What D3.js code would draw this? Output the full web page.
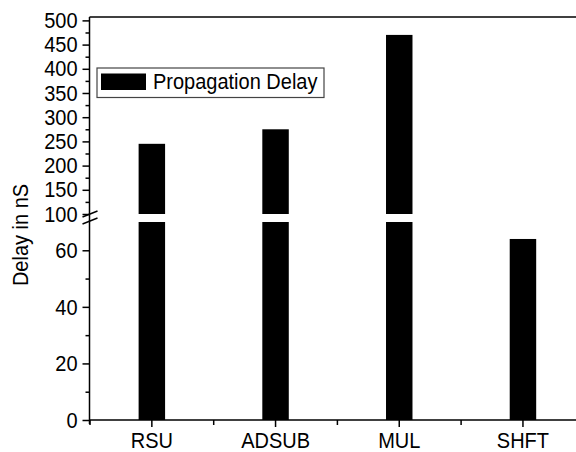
<!DOCTYPE html>
<html><head><meta charset="utf-8">
<script src="https://cdn.jsdelivr.net/npm/d3@7"></script>
<style>
body{margin:0;background:#fff;}
svg{display:block;}
text{font-family:"Liberation Sans",Arial,sans-serif;fill:#000;}
</style></head>
<body><svg id="c" width="576" height="452"></svg>
<script>
const categories = ["RSU", "ADSUB", "MUL", "SHFT"];
const delays = [245, 275, 470, 64];
const lowerTicks = [0, 20, 40, 60];
const lowerMinor = [10, 30, 50];
const upperTicks = [100, 150, 200, 250, 300, 350, 400, 450, 500];
const upperMinor = [125, 175, 225, 275, 325, 375, 425, 475];
const seriesName = "Propagation Delay";
const yTitle = "Delay in nS";

const svg = d3.select("#c");
const axX = 89.5, bottomY = 420, topY = 17;
const breakLow = 70, breakHigh = 100;
const sy = 1.12; // vertical text stretch

const x = d3.scaleBand().domain(categories).range([90, 584.8]).paddingInner(0.786).paddingOuter(0.393);
const yLow = d3.scaleLinear().domain([0, breakLow]).range([bottomY, 222]);
const yUp = d3.scaleLinear().domain([breakHigh, 507]).range([214, topY]);

// bars
const g = svg.append("g");
categories.forEach((c, i) => {
  const v = delays[i];
  const lowTop = Math.min(v, breakLow);
  g.append("rect").attr("x", x(c)).attr("width", x.bandwidth())
    .attr("y", yLow(lowTop)).attr("height", yLow(0) - yLow(lowTop)).attr("fill", "#000");
  if (v > breakHigh) {
    g.append("rect").attr("x", x(c)).attr("width", x.bandwidth())
      .attr("y", yUp(v)).attr("height", yUp(breakHigh) - yUp(v)).attr("fill", "#000");
  }
});

// frame top
svg.append("line").attr("x1", axX).attr("x2", 576).attr("y1", topY).attr("y2", topY)
  .attr("stroke", "#000").attr("stroke-width", 1.5);

function styleAxis(sel) {
  sel.select(".domain").remove();
  sel.selectAll(".tick line").attr("stroke", "#000").attr("stroke-width", 1.5);
  sel.selectAll("text").style("font-size", "20px").attr("transform", `scale(1,${sy})`);
}
// lower y axis
svg.append("g").attr("transform", `translate(${axX},0)`)
  .call(d3.axisLeft(yLow).tickValues(lowerTicks).tickSize(7).tickPadding(5).tickFormat(d3.format("d")))
  .call(styleAxis);
svg.append("g").attr("transform", `translate(${axX},0)`)
  .call(d3.axisLeft(yLow).tickValues(lowerMinor).tickSize(4).tickFormat(""))
  .call(styleAxis);
// upper y axis
svg.append("g").attr("transform", `translate(${axX},0)`)
  .call(d3.axisLeft(yUp).tickValues(upperTicks).tickSize(7).tickPadding(5).tickFormat(d3.format("d")))
  .call(styleAxis);
svg.append("g").attr("transform", `translate(${axX},0)`)
  .call(d3.axisLeft(yUp).tickValues(upperMinor).tickSize(4).tickFormat(""))
  .call(styleAxis);
// y axis line
svg.append("line").attr("x1", axX).attr("x2", axX).attr("y1", topY).attr("y2", bottomY + 4)
  .attr("stroke", "#000").attr("stroke-width", 1.5);
// break marks
[0, 7].forEach(off => {
  svg.append("line").attr("x1", axX - 7).attr("y1", 217 + off).attr("x2", axX + 8).attr("y2", 211 + off)
    .attr("stroke", "#000").attr("stroke-width", 1.5);
});

// x axis
const xg = svg.append("g").attr("transform", `translate(0,${bottomY})`)
  .call(d3.axisBottom(x).tickSize(7).tickPadding(4));
xg.select(".domain").remove();
xg.selectAll(".tick line").attr("stroke", "#000").attr("stroke-width", 1.5);
xg.selectAll("text").style("font-size", "20px").attr("dy", null).attr("y", 28 / sy)
  .attr("transform", `scale(1,${sy})`);
svg.append("line").attr("x1", axX).attr("x2", 576).attr("y1", bottomY).attr("y2", bottomY)
  .attr("stroke", "#000").attr("stroke-width", 1.5);
// minor x ticks at band boundaries
const step = x.step();
const bounds = d3.range(categories.length + 1).map(i => x(categories[0]) - x.paddingOuter() * step + i * step);
svg.selectAll(".xminor").data(bounds).join("line")
  .attr("x1", d => d).attr("x2", d => d).attr("y1", bottomY).attr("y2", bottomY + 5)
  .attr("stroke", "#000").attr("stroke-width", 1.5);

// y title
svg.append("text").attr("transform", `translate(28,235) rotate(-90) scale(1,${sy})`)
  .attr("text-anchor", "middle").style("font-size", "20px").text(yTitle);

// legend
const lg = svg.append("g");
lg.append("rect").attr("x", 97).attr("y", 68).attr("width", 227).attr("height", 29.5)
  .attr("fill", "#fff").attr("stroke", "#444").attr("stroke-width", 1.2);
lg.append("rect").attr("x", 101).attr("y", 73.5).attr("width", 45).attr("height", 16.5).attr("fill", "#000");
lg.append("text").attr("transform", `translate(153,89) scale(1,${sy})`).style("font-size", "20px").text(seriesName);
</script></body></html>
